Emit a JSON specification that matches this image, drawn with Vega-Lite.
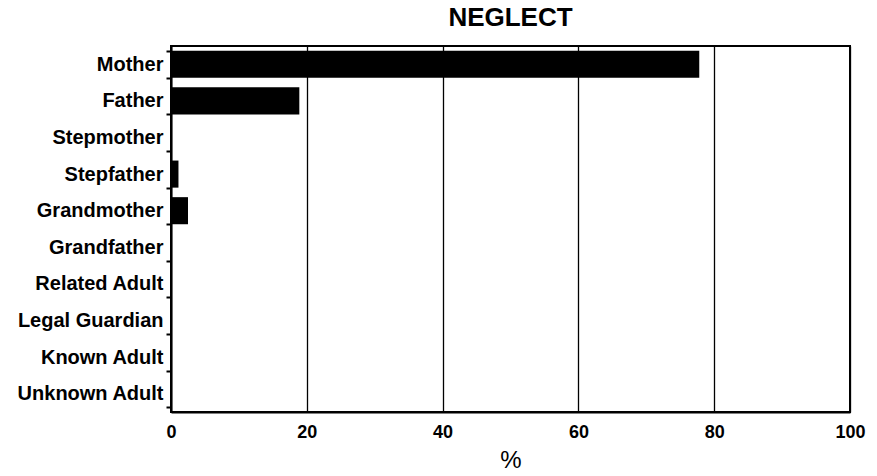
{
  "$schema": "https://vega.github.io/schema/vega-lite/v6.json",
  "autosize": "none",
  "width": 679,
  "height": 366,
  "padding": {"left": 171, "top": 46, "right": 27, "bottom": 64},
  "background": "white",
  "title": {"text": "NEGLECT", "font": "Liberation Sans", "fontSize": 26, "fontWeight": "bold", "color": "black", "anchor": "middle", "offset": 5},
  "data": {"values": [
    {"relation": "Mother", "pct": 77.8},
    {"relation": "Father", "pct": 18.9},
    {"relation": "Stepmother", "pct": 0},
    {"relation": "Stepfather", "pct": 1.1},
    {"relation": "Grandmother", "pct": 2.5},
    {"relation": "Grandfather", "pct": 0},
    {"relation": "Related Adult", "pct": 0},
    {"relation": "Legal Guardian", "pct": 0},
    {"relation": "Known Adult", "pct": 0},
    {"relation": "Unknown Adult", "pct": 0}
  ]},
  "mark": {"type": "bar", "color": "black"},
  "encoding": {
    "y": {
      "field": "relation", "type": "nominal", "sort": null,
      "scale": {"paddingInner": 0.26, "paddingOuter": 0.13},
      "axis": {
        "title": null, "domain": true, "domainColor": "black", "domainWidth": 2,
        "ticks": true, "tickBand": "extent", "tickSize": 5, "tickColor": "black", "tickWidth": 2,
        "labelFont": "Liberation Sans", "labelFontSize": 20, "labelFontWeight": "bold", "labelColor": "black",
        "labelPadding": 3, "grid": false
      }
    },
    "x": {
      "field": "pct", "type": "quantitative",
      "scale": {"domain": [0, 100], "nice": false},
      "axis": {
        "title": "%", "titleFont": "Liberation Sans", "titleFontSize": 24, "titleFontWeight": "normal", "titleColor": "black", "titlePadding": 7,
        "values": [0, 20, 40, 60, 80, 100], "ticks": false, "labelPadding": 11, "labelFlush": false,
        "labelFont": "Liberation Sans", "labelFontSize": 18, "labelFontWeight": "bold", "labelColor": "black",
        "domain": true, "domainColor": "black", "domainWidth": 2,
        "grid": true, "gridColor": "black", "gridWidth": 1.3, "gridOpacity": 1
      }
    }
  },
  "config": {
    "view": {"stroke": "black", "strokeWidth": 2}
  }
}
